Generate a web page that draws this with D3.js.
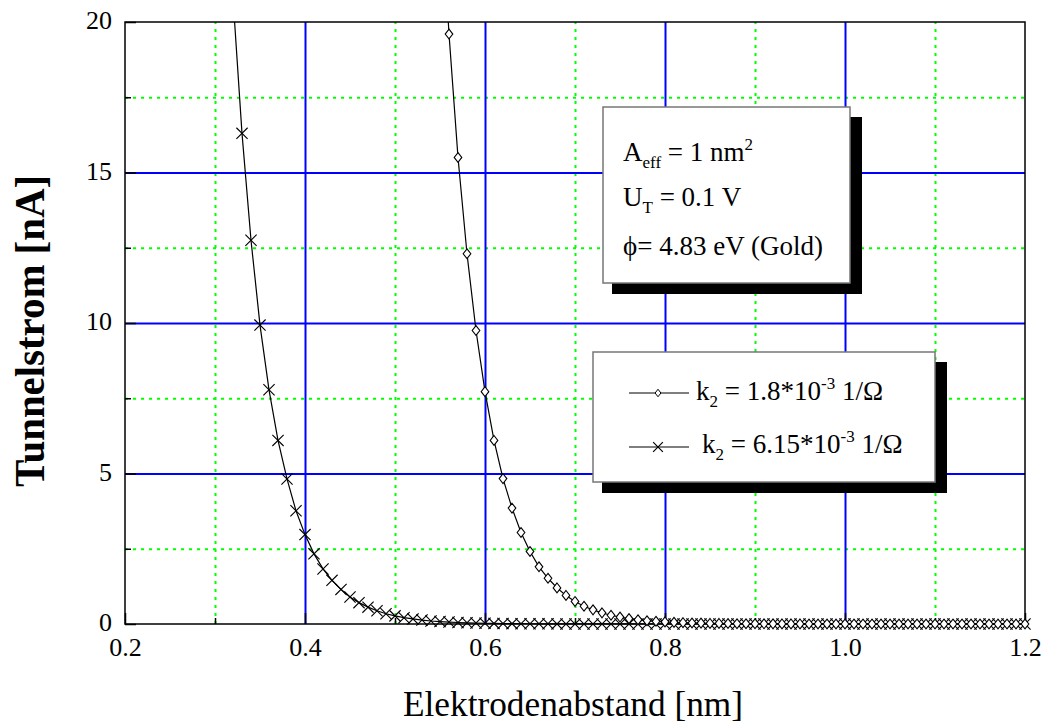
<!DOCTYPE html>
<html lang="de">
<head>
<meta charset="utf-8">
<title>Tunnelstrom</title>
<script src="https://cdn.jsdelivr.net/npm/d3@7"></script>
<style>
body { margin:0; background:#fff; }
svg { display:block; font-family:"Liberation Serif","Times New Roman",serif; }
</style>
</head>
<body>
<svg id="chart" width="1043" height="724"></svg>
<script>
// Elektrodenabstand [nm]
var abstand = [
  0.32,0.33,0.34,0.35,0.36,0.37,0.38,0.39,0.40,0.41,
  0.42,0.43,0.44,0.45,0.46,0.47,0.48,0.49,0.50,0.51,
  0.52,0.53,0.54,0.55,0.56,0.57,0.58,0.59,0.60,0.61,
  0.62,0.63,0.64,0.65,0.66,0.67,0.68,0.69,0.70,0.71,
  0.72,0.73,0.74,0.75,0.76,0.77,0.78,0.79,0.80,0.81,
  0.82,0.83,0.84,0.85,0.86,0.87,0.88,0.89,0.90,0.91,
  0.92,0.93,0.94,0.95,0.96,0.97,0.98,0.99,1.00,1.01,
  1.02,1.03,1.04,1.05,1.06,1.07,1.08,1.09,1.10,1.11,
  1.12,1.13,1.14,1.15,1.16,1.17,1.18,1.19,1.20];

// Tunnelstrom [nA], k2 = 1.8*10^-3 1/Ohm (Rauten)
var strom_k18 = [
  null,null,null,null,null,null,null,null,null,null,
  null,null,null,null,null,null,null,null,null,null,
  null,null,null,24.8,19.6,15.5,12.3,9.75,7.72,6.10,
  4.83,3.85,3.04,2.41,1.90,1.52,1.20,0.95,0.75,0.59,
  0.47,0.37,0.29,0.23,0.18,0.14,0.11,0.09,0.07,0.055,
  0.045,0.035,0.03,0.02,0.02,0.015,0.01,0.01,0.008,0.006,
  0.005,0.004,0.003,0.003,0.002,0.002,0.002,0.001,0.001,0.001,
  0.001,0.001,0.001,0,0,0,0,0,0,0,
  0,0,0,0,0,0,0,0,0];

// Tunnelstrom [nA], k2 = 6.15*10^-3 1/Ohm (Kreuze)
var strom_k615 = [
  20.8,16.3,12.75,9.93,7.78,6.10,4.82,3.76,2.97,2.33,
  1.83,1.45,1.15,0.90,0.71,0.56,0.44,0.34,0.27,0.21,
  0.17,0.13,0.10,0.08,0.065,0.05,0.04,0.03,0.025,0.02,
  0.015,0.012,0.01,0.008,0.006,0.005,0.004,0.003,0.002,0.002,
  0.001,0.001,0.001,0.001,0.001,0.001,0.001,0.001,0.001,0.001,
  0,0,0,0,0,0,0,0,0,0,
  0,0,0,0,0,0,0,0,0,0,
  0,0,0,0,0,0,0,0,0,0,
  0,0,0,0,0,0,0,0,0];

var xMajor = [0.2,0.4,0.6,0.8,1.0,1.2];
var xMinor = [0.3,0.5,0.7,0.9,1.1];
var yMajor = [0,5,10,15,20];
var yMinor = [2.5,7.5,12.5,17.5];

(function(){
var svg = d3.select("#chart");
var pLeft = 125, pRight = 1025, pTop = 22, pBottom = 624;

var x = d3.scaleLinear().domain([0.2,1.2]).range([pLeft,pRight]);
var y = d3.scaleLinear().domain([0,20]).range([pBottom,pTop]);

//////////////////////////////
// grid
function grid(axis, vals, stroke, width, dash){
  var g = svg.append("g").call(axis.tickValues(vals).tickFormat(""));
  g.select(".domain").remove();
  g.selectAll("line").attr("stroke", stroke).attr("stroke-width", width)
    .attr("stroke-dasharray", dash);
  return g;
}
grid(d3.axisBottom(x).tickSize(-(pBottom-pTop)), xMinor, "#00ff00", 2, "3,5")
  .attr("transform","translate(0,"+pBottom+")");
grid(d3.axisLeft(y).tickSize(-(pRight-pLeft)), yMinor, "#00ff00", 2, "3,5")
  .attr("transform","translate("+pLeft+",0)");
grid(d3.axisBottom(x).tickSize(-(pBottom-pTop)), xMajor.slice(1,-1), "#0000ff", 2, null)
  .attr("transform","translate(0,"+pBottom+")");
grid(d3.axisLeft(y).tickSize(-(pRight-pLeft)), yMajor.slice(1,-1), "#0000ff", 2, null)
  .attr("transform","translate("+pLeft+",0)");

//////////////////////////////
// axes, ticks pointing inward
var xAxis = svg.append("g").attr("transform","translate(0,"+pBottom+")")
  .call(d3.axisBottom(x).tickValues(xMajor).tickSize(-11).tickPadding(14)
    .tickFormat(d3.format(".1f")));
var yAxis = svg.append("g").attr("transform","translate("+pLeft+",0)")
  .call(d3.axisLeft(y).tickValues(yMajor).tickSize(-11).tickPadding(13)
    .tickFormat(d3.format("d")));
var xMin = svg.append("g").attr("transform","translate(0,"+pBottom+")")
  .call(d3.axisBottom(x).tickValues(xMinor).tickSize(-6).tickFormat(""));
var yMin = svg.append("g").attr("transform","translate("+pLeft+",0)")
  .call(d3.axisLeft(y).tickValues(yMinor).tickSize(-6).tickFormat(""));
[xAxis, yAxis, xMin, yMin].forEach(function(a){
  a.select(".domain").remove();
  a.selectAll(".tick line").attr("stroke","#000").attr("stroke-width",1.5);
  a.attr("font-family",null).attr("font-size",null);
  a.selectAll("text").attr("font-size",26).attr("fill","#000");
});
yAxis.selectAll("text").attr("dy","0.25em");

svg.append("rect").attr("x",pLeft).attr("y",pTop)
  .attr("width",pRight-pLeft).attr("height",pBottom-pTop)
  .attr("fill","none").attr("stroke","#000").attr("stroke-width",1.5);

// axis titles
svg.append("text").attr("x",573).attr("y",716).attr("text-anchor","middle")
  .attr("font-size",35).attr("textLength",340).attr("lengthAdjust","spacingAndGlyphs")
  .text("Elektrodenabstand [nm]");
svg.append("text").attr("transform","translate(44,331) rotate(-90)")
  .attr("text-anchor","middle").attr("font-size",42).attr("font-weight","bold")
  .attr("textLength",312).attr("lengthAdjust","spacingAndGlyphs")
  .text("Tunnelstrom [nA]");

//////////////////////////////
// info box and legend with shadow
function box(x0,y0,x1,y1){
  svg.append("rect").attr("x",x0+9).attr("y",y0+10).attr("width",x1-x0+3).attr("height",y1-y0+1)
    .attr("fill","#000");
  svg.append("rect").attr("x",x0).attr("y",y0).attr("width",x1-x0).attr("height",y1-y0)
    .attr("fill","#fff").attr("stroke","#777").attr("stroke-width",1.5);
}
box(603,107,850,283);
box(593,352,935,482);

function richText(x0, y0, parts){
  var t = svg.append("text").attr("x",x0).attr("y",y0).attr("font-size",27).attr("fill","#000");
  var shift = 0;
  parts.forEach(function(p){
    var s = t.append("tspan").text(p[0]);
    var want = p[1]==="sub" ? 7 : p[1]==="sup" ? -11 : 0;
    if (want !== shift) { s.attr("dy", want-shift); shift = want; }
    if (p[1]) s.attr("font-size",17);
  });
  return t;
}
richText(623,161,[["A"],["eff","sub"],[" = 1 nm"],["2","sup"]]);
richText(623,206,[["U"],["T","sub"],[" = 0.1 V"]]);
richText(623,255,[["\u03D5= 4.83 eV (Gold)"]]);

var diamondType = { draw: function(ctx, size){
  var h = Math.sqrt(size)/2, w = h*0.78;
  ctx.moveTo(0,-h); ctx.lineTo(w,0); ctx.lineTo(0,h); ctx.lineTo(-w,0); ctx.closePath();
}};
var diamond = d3.symbol().type(diamondType).size(96);
var cross = d3.symbol().type(d3.symbolTimes).size(84);

// legend
var legendY = [393, 447];
legendY.forEach(function(ly){
  svg.append("line").attr("x1",629).attr("x2",689).attr("y1",ly).attr("y2",ly)
    .attr("stroke","#000").attr("stroke-width",1.2);
});
svg.append("path").attr("d", d3.symbol().type(diamondType).size(56)())
  .attr("transform","translate(658,"+legendY[0]+")")
  .attr("fill","#fff").attr("stroke","#000").attr("stroke-width",1);
svg.append("path").attr("d", d3.symbol().type(d3.symbolTimes).size(64)())
  .attr("transform","translate(658,"+legendY[1]+")")
  .attr("fill","none").attr("stroke","#000").attr("stroke-width",1.2);
richText(696,400,[["k"],["2","sub"],[" = 1.8*10"],["-3","sup"],[" 1/\u03A9"]]);
richText(702,453,[["k"],["2","sub"],[" = 6.15*10"],["-3","sup"],[" 1/\u03A9"]]);

//////////////////////////////
// curves
svg.append("clipPath").attr("id","plotclip").append("rect")
  .attr("x",pLeft-6).attr("y",pTop).attr("width",pRight-pLeft+12).attr("height",pBottom-pTop+10);

var plot = svg.append("g").attr("clip-path","url(#plotclip)");

function series(vals, sym, fill){
  var pts = abstand.map(function(d,i){ return [d, vals[i]]; })
    .filter(function(p){ return p[1] !== null; });
  plot.append("path").datum(pts)
    .attr("d", d3.line().x(function(p){ return x(p[0]); }).y(function(p){ return y(p[1]); }))
    .attr("fill","none").attr("stroke","#000").attr("stroke-width",1.2);
  plot.selectAll(null).data(pts.filter(function(p){ return p[1] <= 20; })).enter().append("path")
    .attr("d", sym)
    .attr("transform", function(p){ return "translate("+x(p[0])+","+y(p[1])+")"; })
    .attr("fill", fill).attr("stroke","#000").attr("stroke-width",1.1);
}
series(strom_k615, cross, "none");
series(strom_k18, diamond, "#fff");
})();
</script>
</body>
</html>
